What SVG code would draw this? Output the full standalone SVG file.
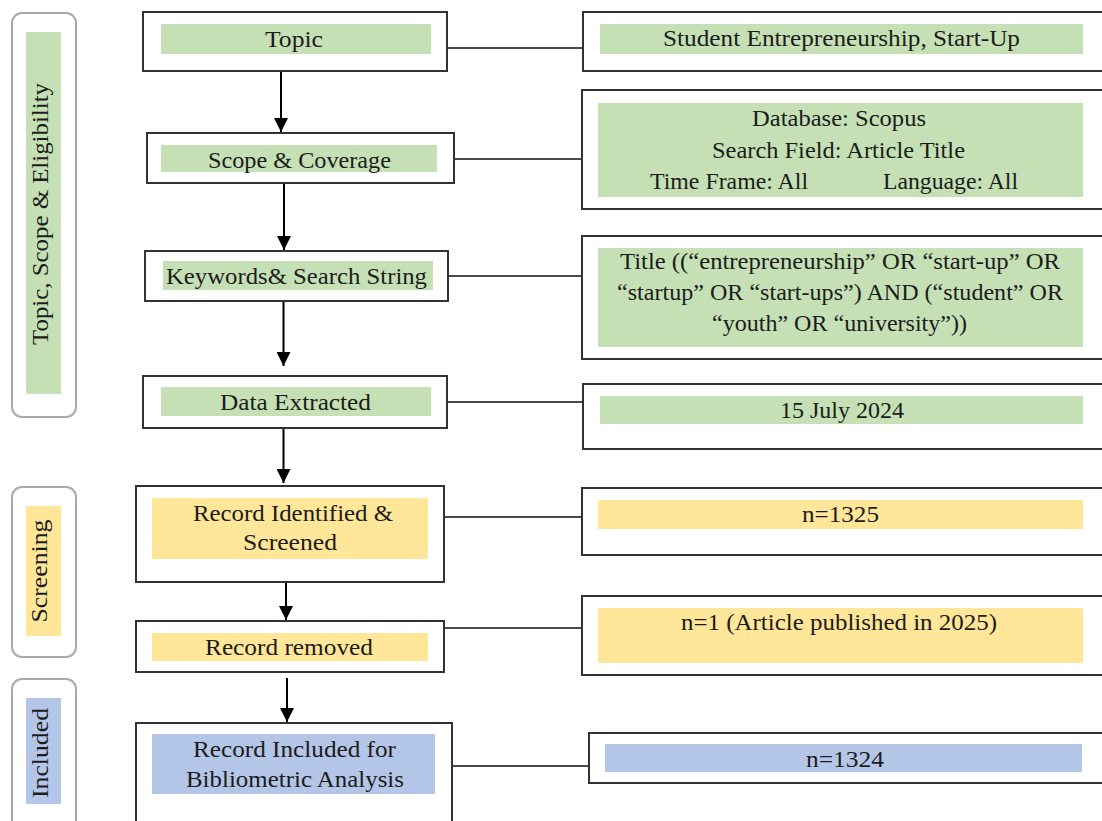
<svg xmlns="http://www.w3.org/2000/svg" width="1102" height="821" viewBox="0 0 1102 821">
<style>
.box{fill:#fff;stroke:#333;stroke-width:2}
.panel{fill:#fff;stroke:#a8a8a8;stroke-width:2}
.g{fill:#c5e0b4}
.y{fill:#ffe699}
.b{fill:#b4c6e7}
.t{font-family:"Liberation Serif","Times New Roman",serif;font-size:23px;fill:#1c1c1c}
.c{text-anchor:middle}
.conn{stroke:#4a4a4a;stroke-width:2;fill:none}
.arr{stroke:#000;stroke-width:2;fill:none;marker-end:url(#ah)}
</style>
<defs>
<marker id="ah" viewBox="0 0 10 10" refX="10" refY="5" markerUnits="userSpaceOnUse" markerWidth="14" markerHeight="14" orient="auto">
<path d="M0,0 L10,5 L0,10 z" fill="#000"/>
</marker>
</defs>
<rect width="1102" height="821" fill="#fff"/>

<g id="panel-topic">
<rect class="panel" x="12" y="13" width="64" height="404" rx="10"/>
<rect class="g" x="26" y="32" width="35" height="362"/>
<text class="t c" transform="translate(48,214) rotate(-90)" textLength="262" lengthAdjust="spacingAndGlyphs">Topic, Scope &amp; Eligibility</text>
</g>
<g id="panel-screening">
<rect class="panel" x="12" y="487" width="64" height="170" rx="10"/>
<rect class="y" x="26" y="506" width="35" height="130"/>
<text class="t c" transform="translate(47,571) rotate(-90)" textLength="103" lengthAdjust="spacingAndGlyphs">Screening</text>
</g>
<g id="panel-included">
<rect class="panel" x="12" y="679" width="64" height="170" rx="10"/>
<rect class="b" x="26" y="698" width="35" height="106"/>
<text class="t c" transform="translate(48,753) rotate(-90)" textLength="90" lengthAdjust="spacingAndGlyphs">Included</text>
</g>

<g id="connectors">
<line class="conn" x1="447" y1="48" x2="583" y2="48"/>
<line class="conn" x1="454" y1="159" x2="582" y2="159"/>
<line class="conn" x1="448" y1="276" x2="582" y2="276"/>
<line class="conn" x1="447" y1="402" x2="583" y2="402"/>
<line class="conn" x1="444" y1="517" x2="582" y2="517"/>
<line class="conn" x1="444" y1="628" x2="582" y2="628"/>
<line class="conn" x1="452" y1="766" x2="589" y2="766"/>
<line class="arr" x1="281" y1="71" x2="281" y2="132"/>
<line class="arr" x1="284" y1="183" x2="284" y2="250"/>
<line class="arr" x1="283.5" y1="301" x2="283.5" y2="366"/>
<line class="arr" x1="283.5" y1="428" x2="283.5" y2="483"/>
<line class="arr" x1="286" y1="582" x2="286" y2="620"/>
<line class="arr" x1="287" y1="678" x2="287" y2="722"/>
</g>

<g id="topic">
<rect class="box" x="143" y="12" width="304" height="59"/>
<rect class="g" x="161" y="24" width="270" height="30"/>
<text class="t c" x="294" y="47" textLength="58" lengthAdjust="spacingAndGlyphs">Topic</text>
</g>
<g id="scope">
<rect class="box" x="147" y="133" width="307" height="50"/>
<rect class="g" x="161" y="145" width="276" height="27"/>
<text class="t c" x="299.5" y="168" textLength="183" lengthAdjust="spacingAndGlyphs">Scope &amp; Coverage</text>
</g>
<g id="keywords">
<rect class="box" x="145" y="251" width="303" height="50"/>
<rect class="g" x="163" y="261" width="270" height="29"/>
<text class="t c" x="296.5" y="284" textLength="261" lengthAdjust="spacingAndGlyphs">Keywords&amp; Search String</text>
</g>
<g id="data-extracted">
<rect class="box" x="143" y="376" width="304" height="52"/>
<rect class="g" x="161" y="387" width="270" height="29"/>
<text class="t c" x="295.5" y="410" textLength="151" lengthAdjust="spacingAndGlyphs">Data Extracted</text>
</g>
<g id="record-identified">
<rect class="box" x="136" y="486" width="308" height="96"/>
<rect class="y" x="152" y="498" width="276" height="61"/>
<text class="t c" x="293" y="521" textLength="200" lengthAdjust="spacingAndGlyphs">Record Identified &amp;</text>
<text class="t c" x="290" y="550" textLength="94" lengthAdjust="spacingAndGlyphs">Screened</text>
</g>
<g id="record-removed">
<rect class="box" x="136" y="621" width="308" height="51"/>
<rect class="y" x="152" y="633" width="276" height="28"/>
<text class="t c" x="289" y="655" textLength="168" lengthAdjust="spacingAndGlyphs">Record removed</text>
</g>
<g id="record-included">
<rect class="box" x="136" y="723" width="316" height="120"/>
<rect class="b" x="152" y="734" width="283" height="60"/>
<text class="t c" x="294.5" y="757" textLength="203" lengthAdjust="spacingAndGlyphs">Record Included for</text>
<text class="t c" x="295" y="787" textLength="218" lengthAdjust="spacingAndGlyphs">Bibliometric Analysis</text>
</g>

<g id="topic-detail">
<rect class="box" x="583" y="12" width="530" height="59"/>
<rect class="g" x="600" y="24" width="483" height="30"/>
<text class="t c" x="841.5" y="46" textLength="357" lengthAdjust="spacingAndGlyphs">Student Entrepreneurship, Start-Up</text>
</g>
<g id="scope-detail">
<rect class="box" x="582" y="90" width="530" height="119"/>
<rect class="g" x="598" y="103" width="485" height="94"/>
<text class="t c" x="839" y="126" textLength="174" lengthAdjust="spacingAndGlyphs">Database: Scopus</text>
<text class="t c" x="838.5" y="158" textLength="253" lengthAdjust="spacingAndGlyphs">Search Field: Article Title</text>
<text class="t" x="650" y="189" textLength="158" lengthAdjust="spacingAndGlyphs">Time Frame: All</text>
<text class="t" x="883" y="189" textLength="135" lengthAdjust="spacingAndGlyphs">Language: All</text>
</g>
<g id="keywords-detail">
<rect class="box" x="582" y="236" width="530" height="123"/>
<rect class="g" x="598" y="248" width="485" height="99"/>
<text class="t c" x="840" y="269" textLength="440" lengthAdjust="spacingAndGlyphs">Title ((“entrepreneurship” OR “start-up” OR</text>
<text class="t c" x="840" y="300" textLength="446" lengthAdjust="spacingAndGlyphs">“startup” OR “start-ups”) AND (“student” OR</text>
<text class="t c" x="839.5" y="331" textLength="255" lengthAdjust="spacingAndGlyphs">“youth” OR “university”))</text>
</g>
<g id="date-detail">
<rect class="box" x="583" y="384" width="530" height="65"/>
<rect class="g" x="600" y="396" width="483" height="28"/>
<text class="t c" x="842" y="418" textLength="124" lengthAdjust="spacingAndGlyphs">15 July 2024</text>
</g>
<g id="identified-detail">
<rect class="box" x="582" y="488" width="530" height="67"/>
<rect class="y" x="598" y="500" width="485" height="29"/>
<text class="t c" x="840.5" y="522" textLength="77" lengthAdjust="spacingAndGlyphs">n=1325</text>
</g>
<g id="removed-detail">
<rect class="box" x="582" y="596" width="530" height="79"/>
<rect class="y" x="598" y="608" width="485" height="55"/>
<text class="t c" x="839" y="630" textLength="316" lengthAdjust="spacingAndGlyphs">n=1 (Article published in 2025)</text>
</g>
<g id="included-detail">
<rect class="box" x="589" y="733" width="530" height="50"/>
<rect class="b" x="605" y="744" width="477" height="28"/>
<text class="t c" x="845" y="767" textLength="78" lengthAdjust="spacingAndGlyphs">n=1324</text>
</g>
</svg>
